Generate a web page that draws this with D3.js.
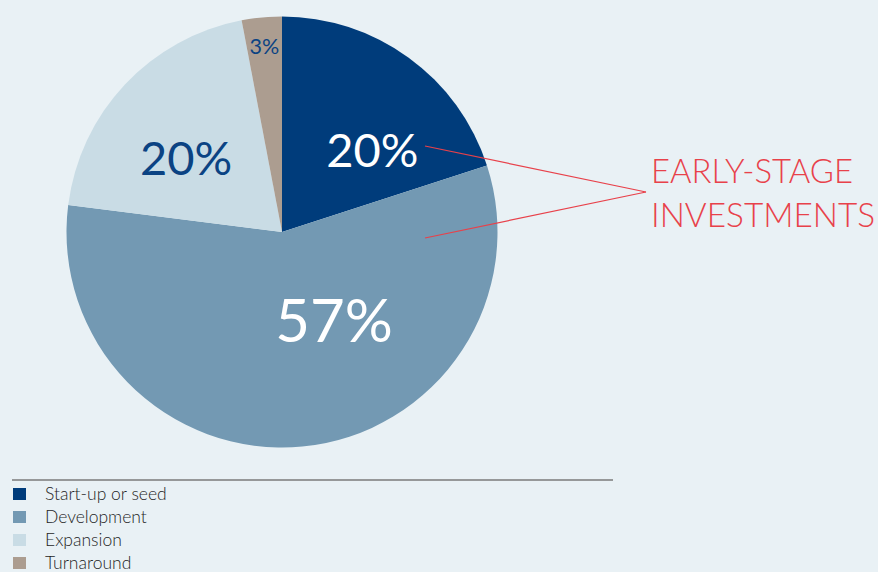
<!DOCTYPE html>
<html>
<head>
<meta charset="utf-8">
<script src="https://cdn.jsdelivr.net/npm/d3@7"></script>
<style>
  html, body { margin: 0; padding: 0; background: #e9f1f5; }
  svg { display: block; }
  text { font-family: Lato, "Open Sans", sans-serif; }
</style>
</head>
<body>
<svg id="chart" width="878" height="572"></svg>
<script>
// Investment stages, share of total (%)
const categories = ["Start-up or seed", "Development", "Expansion", "Turnaround"];
const values = [20, 57, 20, 3];
const valueLabels = ["20%", "57%", "20%", "3%"];
const colors = ["#003c7b", "#7399b3", "#c9dce5", "#ac9d90"];
const labelColors = ["#ffffff", "#ffffff", "#0b4383", "#0b4383"];
const calloutLines = ["EARLY-STAGE", "INVESTMENTS"];

const svg = d3.select("#chart");
const cx = 282, cy = 232, R = 215.5;

const data = categories.map((c, i) => ({ name: c, value: values[i], label: valueLabels[i], color: colors[i], labelColor: labelColors[i] }));

const pie = d3.pie().value(d => d.value).sort(null);
const arcs = pie(data);
const arc = d3.arc().innerRadius(0).outerRadius(R);

const g = svg.append("g").attr("transform", `translate(${cx},${cy})`);

g.selectAll("path.slice")
  .data(arcs)
  .join("path")
  .attr("class", "slice")
  .attr("d", arc)
  .attr("fill", d => d.data.color);

// label placement: radius and angular shift from the slice middle, font size per slice
const labelStyle = [
  { r: 122, shift: 0.205, size: 47 },
  { r: 102.6, shift: -0.438, size: 60 },
  { r: 121, shift: -0.098, size: 47 },
  { r: 187, shift: 0.0, size: 21.5 }
];

g.selectAll("text.value")
  .data(arcs)
  .join("text")
  .attr("class", "value")
  .each(function (d, i) {
    const s = labelStyle[i];
    const a = (d.startAngle + d.endAngle) / 2 + s.shift;
    const x = Math.sin(a) * s.r;
    const y = -Math.cos(a) * s.r;
    d3.select(this)
      .attr("x", x)
      .attr("y", y + s.size * 0.36)
      .attr("font-size", s.size)
      .attr("text-anchor", "middle")
      .attr("fill", d.data.labelColor)
      .text(d.data.label);
  });

// callout lines converging on the early-stage label
const tip = { x: 646, y: 192 };
const lineStarts = [{ x: 425, y: 146 }, { x: 425, y: 238 }];
svg.selectAll("line.callout")
  .data(lineStarts)
  .join("line")
  .attr("class", "callout")
  .attr("x1", d => d.x).attr("y1", d => d.y)
  .attr("x2", tip.x).attr("y2", tip.y)
  .attr("stroke", "#e8414a")
  .attr("stroke-width", 1.2);

svg.selectAll("text.callout")
  .data(calloutLines)
  .join("text")
  .attr("class", "callout")
  .attr("x", 651)
  .attr("y", (d, i) => 183 + i * 44)
  .attr("font-size", 34)
  .attr("font-weight", 300)
  .attr("fill", "#e8414a")
  .attr("textLength", (d, i) => i === 0 ? 202 : 224)
  .attr("lengthAdjust", "spacingAndGlyphs")
  .text(d => d);

// legend
svg.append("line")
  .attr("x1", 12).attr("x2", 613)
  .attr("y1", 480).attr("y2", 480)
  .attr("stroke", "#7a7a7a")
  .attr("stroke-width", 1.3);

const legend = svg.append("g");
const rowY = d3.scalePoint().domain(categories).range([500, 569]);

const rows = legend.selectAll("g.row")
  .data(data)
  .join("g")
  .attr("class", "row")
  .attr("transform", d => `translate(0,${rowY(d.name)})`);

rows.append("rect")
  .attr("x", 13).attr("y", -12)
  .attr("width", 13).attr("height", 12)
  .attr("fill", d => d.color);

rows.append("text")
  .attr("x", 45)
  .attr("y", 0)
  .attr("font-size", 17.5)
  .attr("font-weight", 300)
  .attr("fill", "#1f1f1f")
  .text(d => d.name);
</script>
</body>
</html>
